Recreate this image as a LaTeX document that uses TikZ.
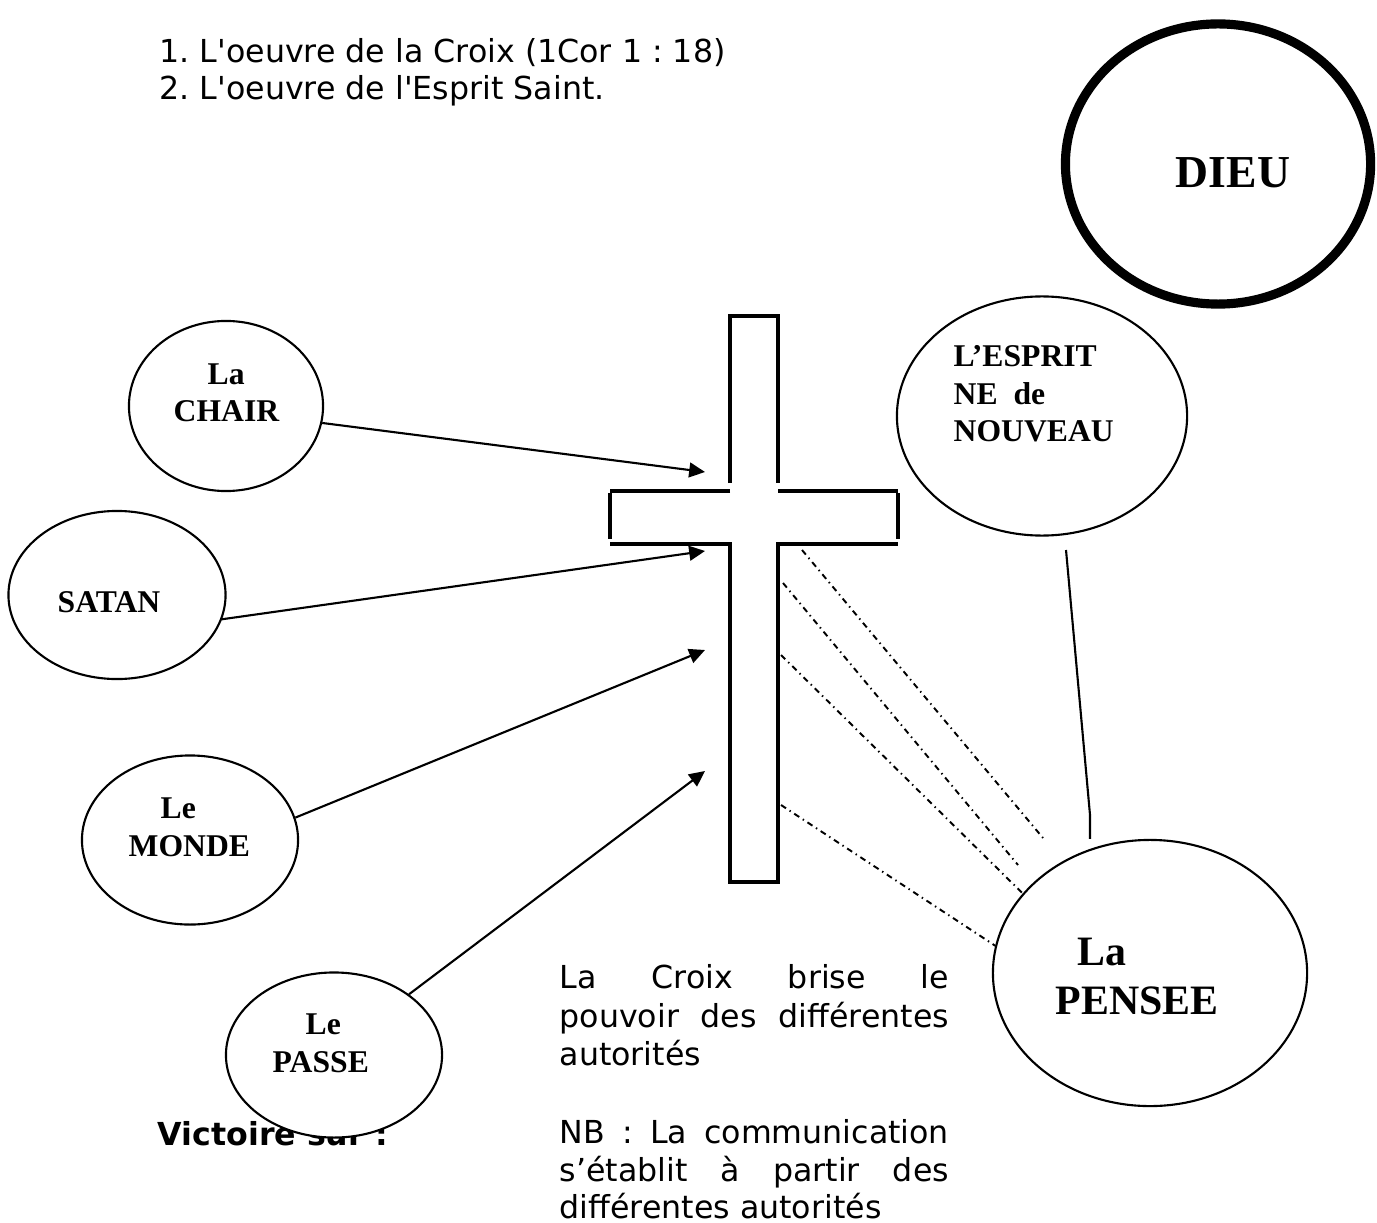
\documentclass[tikz,border=0pt]{standalone}
\usepackage{fontspec}
\setmainfont{DejaVu Sans}
\newfontfamily\timesfont{Liberation Serif}
\usepackage{tikz}
\usetikzlibrary{
    shapes.geometric,
    arrows.meta,
    positioning
}
\tikzstyle{oval} = [
    ellipse, draw,
    line width=0.6pt,
    fill=white,
    inner sep=0pt
]
\tikzstyle{arrow} = [
    line width=0.6pt,
    -{Triangle[length=4.5pt,width=4.2pt]}
]
\tikzstyle{beam} = [
    line width=1.2pt
]
\tikzstyle{ray} = [
    line width=0.55pt,
    dash pattern=on 1.7pt off 1.2pt on 0.4pt off 1.2pt
]
\tikzstyle{prose} = [
    inner sep=0pt,
    anchor=base west,
    font=\fontsize{9}{11}\selectfont
]
\tikzstyle{tag} = [
    inner sep=0pt,
    anchor=base west,
    font=\timesfont\bfseries\fontsize{9}{11}\selectfont
]
\newcommand{\justline}[1]{\makebox[110.7pt][s]{#1}}

\begin{document}
\frenchspacing
\begin{tikzpicture}[
        x=0.01cm, y=-0.01cm
    ]
    \useasboundingbox (0,0) rectangle (1377,1222);

    \node[prose] (item1) at (159,63)  {1. L\textquotesingle oeuvre de la Croix (1Cor 1 : 18)};
    \node[prose] (item2) at (159,100) {2. L\textquotesingle oeuvre de l\textquotesingle Esprit Saint.};

    \node[oval, line width=2.6pt, minimum width=3.05cm, minimum height=2.8cm] (dieu) at (1218,164) {};
    \node[tag, font=\timesfont\bfseries\fontsize{13}{15}\selectfont] (dieutxt) at (1175,188) {DIEU};

    % la croix
    \draw[beam] (730,483) -- (730,316) -- (778,316) -- (778,483);
    \draw[beam] (730,491) -- (610,491);
    \draw[beam] (778,491) -- (898,491);
    \draw[beam] (610,493) -- (610,539);
    \draw[beam] (898,493) -- (898,539);
    \draw[beam] (610,544) -- (730,544) -- (730,882) -- (778,882) -- (778,544) -- (898,544);

    \node[prose, font=\bfseries\fontsize{9}{11}\selectfont] (victoire) at (157,1145) {Victoire sur :};

    \node[oval, minimum width=1.94cm, minimum height=1.7cm]  (chair) at (226,406) {};
    \node[oval, minimum width=2.17cm, minimum height=1.68cm] (satan) at (117,595) {};
    \node[oval, minimum width=2.16cm, minimum height=1.69cm] (monde) at (190,840) {};
    \node[oval, minimum width=2.16cm, minimum height=1.65cm] (passe) at (334,1055) {};
    \node[oval, minimum width=2.9cm, minimum height=2.39cm]  (esprit) at (1042,416) {};
    \node[oval, minimum width=3.14cm, minimum height=2.66cm] (pensee) at (1150,973) {};

    \node[tag] (chair1) at (207,385)  {La};
    \node[tag] (chair2) at (173,422)  {CHAIR};
    \node[tag] (satan1) at (57,612)   {SATAN};
    \node[tag] (monde1) at (160,818)  {Le};
    \node[tag] (monde2) at (128,856)  {MONDE};
    \node[tag] (passe1) at (305,1034) {Le};
    \node[tag] (passe2) at (272,1072) {PASSE};
    \node[tag] (esprit1) at (953,367) {L’ESPRIT};
    \node[tag] (esprit2) at (953,404) {NE\ \ de};
    \node[tag] (esprit3) at (953,442) {NOUVEAU};
    \node[tag, font=\timesfont\bfseries\fontsize{11.9}{14}\selectfont] (pensee1) at (1077,965)  {La};
    \node[tag, font=\timesfont\bfseries\fontsize{11.9}{14}\selectfont] (pensee2) at (1055,1014) {PENSEE};

    \coordinate (t1) at (705,472);
    \coordinate (t2) at (705,551);
    \coordinate (t3) at (705,650);
    \coordinate (t4) at (705,771);
    \draw[arrow] (chair.-10.5) -- (t1);
    \draw[arrow] (satan.-13.9) -- (t2);
    \draw[arrow] (monde.12.1)  -- (t3);
    \draw[arrow] (passe.39.8)  -- (t4);

    \coordinate (r1) at (802,550);
    \coordinate (r2) at (783,583);
    \coordinate (r3) at (781,655);
    \coordinate (r4) at (781,805);
    \coordinate (s1) at (1043,838);
    \coordinate (s2) at (1018,865);
    \draw[ray] (r1) -- (s1);
    \draw[ray] (r2) -- (s2);
    \draw[ray] (r3) -- (pensee.148.8);
    \draw[ray] (r4) -- (pensee.170.5);

    \coordinate (e1) at (1066,550);
    \coordinate (e2) at (1090,815);
    \draw[line width=0.6pt] (e1) -- (e2) -- (e2 |- pensee.north);

    \node[prose] (croix1) at (559,988)  {\justline{La Croix brise le}};
    \node[prose] (croix2) at (559,1027) {\justline{pouvoir des différentes}};
    \node[prose] (croix3) at (559,1065) {autorités};
    \node[prose] (nb1) at (559,1143) {\justline{NB : La communication}};
    \node[prose] (nb2) at (559,1181) {\justline{s’établit à partir des}};
    \node[prose] (nb3) at (559,1218) {différentes autorités};
\end{tikzpicture}
\end{document}
